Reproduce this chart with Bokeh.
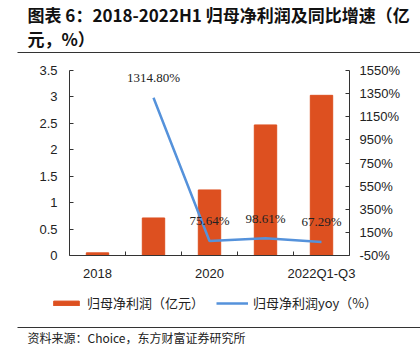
from bokeh.plotting import figure
from bokeh.layouts import column
from bokeh.models import (Range1d, LinearAxis, FixedTicker, CustomJSTickFormatter, PrintfTickFormatter,
                          ColumnDataSource, LabelSet, Label, Legend, LegendItem, BoxAnnotation)
from bokeh.embed import file_html
from bokeh.resources import INLINE

# ---- data ----
categories = ["2018", "2019", "2020", "2021", "2022Q1-Q3"]
shown_categories = ["2018", "2020", "2022Q1-Q3"]
profit = [0.05, 0.71, 1.24, 2.47, 3.03]          # 归母净利润（亿元）
yoy_categories = ["2019", "2020", "2021", "2022Q1-Q3"]
yoy = [1314.80, 75.64, 98.61, 67.29]             # 归母净利润yoy（%）
yoy_labels = ["1314.80%", "75.64%", "98.61%", "67.29%"]
left_ticks = [0, 0.5, 1, 1.5, 2, 2.5, 3, 3.5]
right_ticks = [-50, 150, 350, 550, 750, 950, 1150, 1350, 1550]

title_line1 = "图表 6：2018-2022H1 归母净利润及同比增速（亿"
title_line2 = "元，%）"
source_text = "资料来源：Choice，东方财富证券研究所"
bar_label = "归母净利润（亿元）"
line_label = "归母净利润yoy（%）"

ORANGE = "#DD5020"
BLUE = "#5592DB"
CJK = "'Noto Sans CJK SC'"
NUM = "'Liberation Sans'"
W = 420

x_bar = [categories.index(c) for c in categories]
x_yoy = [categories.index(c) for c in yoy_categories]
major_x = [categories.index(c) for c in shown_categories]
minor_x = [i + 0.5 for i in range(len(categories) - 1)]

bar_src = ColumnDataSource(dict(x=x_bar, top=profit))
yoy_src = ColumnDataSource(dict(x=x_yoy, y=yoy, lab=yoy_labels))


def blank_fig(h):
    f = figure(width=W, height=h, output_backend="svg", toolbar_location=None,
               x_axis_type=None, y_axis_type=None, x_range=Range1d(0, 1), y_range=Range1d(0, 1),
               min_border=0, outline_line_color=None, frame_align=False,
               background_fill_color="white", border_fill_color="white")
    f.grid.visible = False
    return f


def rule(y):
    return BoxAnnotation(left=17, right=W, bottom=y - 0.6, top=y + 0.6,
                         left_units="screen", right_units="screen",
                         top_units="screen", bottom_units="screen",
                         fill_color="#333333", fill_alpha=1, line_color=None)


# ---- header ----
head = blank_fig(54)
head.add_layout(Label(x=27, y=40, x_units="screen", y_units="screen", text=title_line1,
                      text_font=CJK, text_font_size="17px", text_font_style="bold",
                      text_baseline="middle", text_color="#111111"))
head.add_layout(Label(x=27, y=16, x_units="screen", y_units="screen", text=title_line2,
                      text_font=CJK, text_font_size="17px", text_font_style="bold",
                      text_baseline="middle", text_color="#111111"))
head.add_layout(rule(2))

# ---- main chart ----
p = figure(width=W, height=231, output_backend="svg", toolbar_location=None,
           x_range=Range1d(-0.5, len(categories) - 0.5),
           y_range=Range1d(left_ticks[0], left_ticks[-1]),
           min_border_left=69, min_border_right=71, min_border_top=16, min_border_bottom=30,
           outline_line_color=None, frame_align=False,
           background_fill_color="white", border_fill_color="white")
p.xgrid.visible = False
p.ygrid.visible = False
p.extra_y_ranges = {"yoy": Range1d(right_ticks[0], right_ticks[-1])}

p.vbar(x="x", top="top", width=0.4, source=bar_src, fill_color=ORANGE, line_color=ORANGE)
p.line(x="x", y="y", source=yoy_src, y_range_name="yoy", line_color=BLUE, line_width=2.5)

p.add_layout(LabelSet(x="x", y="y", text="lab", source=yoy_src, y_range_name="yoy",
                      y_offset=20, text_align="center", text_baseline="middle",
                      text_font=NUM, text_font_size="13px", text_color="#222222"))

xa = p.xaxis[0]
xa.ticker = FixedTicker(ticks=major_x, minor_ticks=minor_x)
xa.formatter = CustomJSTickFormatter(args=dict(cats=categories), code="return cats[Math.round(tick)]")
xa.major_tick_line_color = None
xa.minor_tick_in = 4
xa.minor_tick_out = 0
xa.minor_tick_line_color = "#333333"
xa.axis_line_color = "#333333"
xa.major_label_standoff = 4
xa.major_label_text_font = NUM
xa.major_label_text_font_size = "13px"
xa.major_label_text_color = "#222222"

ya = p.yaxis[0]
ya.ticker = FixedTicker(ticks=left_ticks)
ya.formatter = CustomJSTickFormatter(code="return tick.toString()")
ya.major_tick_in = 4
ya.major_tick_out = 0
ya.minor_tick_line_color = None
ya.axis_line_color = "#333333"
ya.major_tick_line_color = "#333333"
ya.major_label_standoff = 12
ya.major_label_text_font = NUM
ya.major_label_text_font_size = "13px"
ya.major_label_text_color = "#222222"

ra = LinearAxis(y_range_name="yoy", ticker=FixedTicker(ticks=right_ticks),
                formatter=PrintfTickFormatter(format="%d%%"))
ra.major_tick_in = 4
ra.major_tick_out = 0
ra.minor_tick_line_color = None
ra.axis_line_color = "#333333"
ra.major_tick_line_color = "#333333"
ra.major_label_standoff = 10
ra.major_label_text_font = NUM
ra.major_label_text_font_size = "13px"
ra.major_label_text_color = "#222222"
p.add_layout(ra, "right")

# ---- footer: legend (keys reuse the same data sources, hidden), rule, source ----
foot = blank_fig(73)
bar_key = foot.vbar(x="x", top="top", width=0.4, source=bar_src,
                    fill_color=ORANGE, line_color=ORANGE, visible=False)
line_key = foot.line(x="x", y="y", source=yoy_src, line_color=BLUE, line_width=2.5, visible=False)
legend = Legend(items=[LegendItem(label=bar_label, renderers=[bar_key]),
                       LegendItem(label=line_label, renderers=[line_key])],
                location=(50, 46), orientation="horizontal",
                glyph_width=32, glyph_height=6, label_standoff=5, spacing=12,
                padding=0, margin=0, border_line_color=None, background_fill_alpha=0,
                label_text_font=CJK, label_text_font_size="13px", label_text_color="#222222")
foot.add_layout(legend, "center")
foot.add_layout(rule(31))
foot.add_layout(Label(x=27, y=21, x_units="screen", y_units="screen", text=source_text,
                      text_font=CJK, text_font_size="12px",
                      text_baseline="middle", text_color="#222222"))

layout = column(head, p, foot, spacing=0)
open("out.html", "w").write(file_html(layout, INLINE))
